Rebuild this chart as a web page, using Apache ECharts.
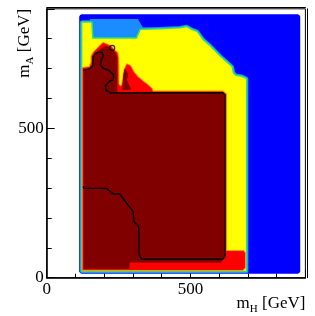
<!DOCTYPE html>
<html><head><meta charset="utf-8">
<script src="https://cdn.jsdelivr.net/npm/echarts@6.0.0/dist/echarts.min.js"></script>
<style>html,body{margin:0;padding:0;background:#fff}#c{width:315px;height:316px}</style>
</head><body><div id="c"></div>
<script>
// ---- data (m_H, m_A in GeV) ----
const xTickLabels = [0, 500];
const yTickLabels = [0, 500];
const blueRegion = [[113,22],[113,873],[116,879],[122,882],[873,882],[879,879],[882,873],[882,22],[879,16],[873,13],[122,13],[116,16]];
const lightBlueBlob = [[150,866],[317,866],[334,839],[327,795],[157,795]];
const yellowRegion = [[124,23],[124,853],[155,853],[158,800],[314,800],[327,829],[393,831],[463,834],[487,838],[504,829],[522,822],[543,795],[567,775],[602,740],[623,722],[643,705],[647,685],[657,675],[678,672],[693,665],[693,23]];
const redRegion = [[125,26],[125,702],[149,705],[156,722],[156,742],[164,755],[196,786],[209,781],[223,775],[235,762],[246,752],[249,735],[250,648],[256,640],[262,645],[270,695],[279,714],[291,709],[303,688],[317,672],[334,658],[352,645],[366,632],[369,623],[612,623],[624,615],[624,89],[685,89],[690,83],[690,33],[682,26]];
const darkRedRegion = [[128,29],[128,693],[150,698],[157,706],[159,739],[168,752],[201,775],[213,774],[223,769],[234,759],[242,749],[246,735],[246,620],[612,620],[621,612],[621,73],[612,63],[609,51],[289,51],[288,29]];
const darkRedTower = [[272,699],[284,682],[279,662],[294,628],[263,628],[267,682]];
const contourLine = [[127,694],[150,700],[160,710],[162,739],[171,752],[191,756],[197,745],[190,729],[187,712],[197,701],[216,694],[232,680],[232,663],[215,655],[204,642],[207,627],[220,619],[612,619],[620,612],[620,71],[612,62],[331,62],[322,76],[320,171],[303,188],[301,221],[283,243],[254,280],[231,280],[208,299],[129,299],[127,306]];
const contourLoop = [[228,769]];

const FONT = 'Liberation Serif';
const chart = echarts.init(document.getElementById('c'), null, {renderer: 'canvas'});

function region(points, fill, strokes, z) {
  return {
    type: 'custom', coordinateSystem: 'cartesian2d', silent: true, z: z,
    data: points, encode: {x: 0, y: 1},
    renderItem: function (params, api) {
      if (params.dataIndex !== 0) return null;
      const pts = points.map(p => api.coord(p));
      const children = strokes.map(s => ({
        type: 'polygon', shape: {points: pts},
        style: {fill: 'none', stroke: s[0], lineWidth: s[1], lineJoin: 'round'}
      }));
      children.push({type: 'polygon', shape: {points: pts}, style: {fill: fill}});
      return {type: 'group', children: children};
    }
  };
}

const richName = {
  m: {fontFamily: FONT, fontSize: 17, color: '#000', lineHeight: 17, verticalAlign: 'top'},
  s: {fontFamily: FONT, fontSize: 11, color: '#000', lineHeight: 11, verticalAlign: 'top', padding: [9, 0, 0, 0]}
};
const labelStyle = {fontFamily: FONT, fontSize: 17, color: '#000', margin: 3};

function frameAxis(pos) {
  return {type: 'value', min: 0, max: 900, position: pos, offset: 1.5,
    axisLine: {show: true, onZero: false, lineStyle: {color: '#000', width: 1}},
    axisTick: {show: false}, axisLabel: {show: false}, splitLine: {show: false}};
}

chart.setOption({
  animation: false,
  backgroundColor: '#fff',
  grid: {left: 46.7, right: 9.6, top: 8.8, bottom: 38.3, show: true, borderColor: '#000', borderWidth: 1, outerBoundsMode: 'none'},
  xAxis: [
    {type: 'value', min: 0, max: 900, interval: 100, position: 'bottom',
     axisLine: {show: true, onZero: false, lineStyle: {color: '#000', width: 1.5}},
     axisTick: {show: true, inside: true, length: 4, lineStyle: {color: '#000', width: 1}},
     axisLabel: Object.assign({formatter: v => xTickLabels.indexOf(v) >= 0 ? String(v) : ''}, labelStyle),
     splitLine: {show: false},
     name: '{m|m}{s|H}{m| [GeV]}', nameLocation: 'end', nameGap: 0,
     nameTextStyle: {align: 'right', verticalAlign: 'top', padding: [17, 0, 0, 0], rich: richName}},
    {type: 'value', min: 0, max: 900, interval: 500, position: 'bottom',
     axisLine: {show: false}, axisTick: {show: true, inside: true, length: 8, lineStyle: {color: '#000', width: 1}},
     axisLabel: {show: false}, splitLine: {show: false}},
    frameAxis('top')
  ],
  yAxis: [
    {type: 'value', min: 0, max: 900, interval: 100, position: 'left',
     axisLine: {show: true, onZero: false, lineStyle: {color: '#000', width: 1.5}},
     axisTick: {show: true, inside: true, length: 5, lineStyle: {color: '#000', width: 1}},
     axisLabel: Object.assign({formatter: v => yTickLabels.indexOf(v) >= 0 ? String(v) : ''}, labelStyle),
     splitLine: {show: false},
     name: '{m|m}{s|A}{m| [GeV]}', nameLocation: 'end', nameGap: 0, nameRotate: 90,
     nameTextStyle: {align: 'right', verticalAlign: 'bottom', padding: [0, 0, 13.6, 0], rich: richName}},
    {type: 'value', min: 0, max: 900, interval: 500, position: 'left',
     axisLine: {show: false}, axisTick: {show: true, inside: true, length: 8, lineStyle: {color: '#000', width: 1}},
     axisLabel: {show: false}, splitLine: {show: false}},
    frameAxis('right')
  ],
  series: [
    region(blueRegion, '#0000ff', [], 1),
    region(lightBlueBlob, '#1a8cff', [], 2),
    region(yellowRegion, '#ffff00', [['#1a8cff', 5], ['#2ee070', 3]], 3),
    region(redRegion, '#ff0000', [['#ff9900', 2]], 4),
    region(darkRedRegion, '#800000', [], 5),
    region(darkRedTower, '#800000', [], 6),
    {type: 'line', data: contourLine, symbol: 'none', showSymbol: false, silent: true, z: 10,
     lineStyle: {color: '#000', width: 1.4}},
    {type: 'scatter', data: contourLoop, symbol: 'circle', symbolSize: 5, silent: true, z: 11,
     itemStyle: {color: 'rgba(0,0,0,0)', borderColor: '#000', borderWidth: 1.2}}
  ]
});
</script>
</body></html>
